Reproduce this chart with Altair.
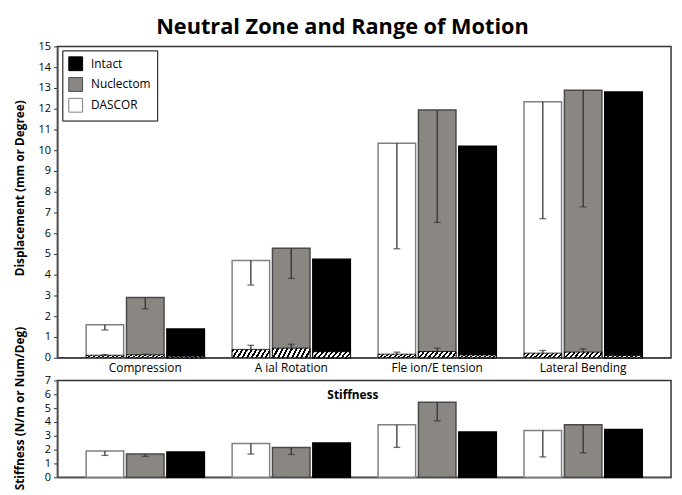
import altair as alt
import pandas as pd

motions = ["Compression", "A  ial Rotation", "Fle  ion/E  tension", "Lateral Bending"]
groups = ["DASCOR", "Nuclectom", "Intact"]
legend_order = ["Intact", "Nuclectom", "DASCOR"]

# Range of motion (bar tops) and downward error-bar lengths
rom_dascor = [1.59, 4.68, 10.33, 12.33]
rom_dascor_sd = [0.25, 1.18, 5.08, 5.63]
rom_nuclectom = [2.90, 5.27, 11.94, 12.89]
rom_nuclectom_sd = [0.54, 1.45, 5.42, 5.62]
rom_intact = [1.38, 4.75, 10.19, 12.81]

# Neutral zone (hatched bars) and upward error-bar lengths
nz_dascor = [0.12, 0.40, 0.17, 0.22]
nz_dascor_sd = [0.03, 0.20, 0.10, 0.13]
nz_nuclectom = [0.14, 0.46, 0.30, 0.27]
nz_nuclectom_sd = [0.03, 0.19, 0.16, 0.16]
nz_intact = [0.07, 0.29, 0.13, 0.11]

# Stiffness and downward error-bar lengths
stiff_dascor = [1.90, 2.45, 3.79, 3.38]
stiff_dascor_sd = [0.32, 0.77, 1.63, 1.91]
stiff_nuclectom = [1.68, 2.16, 5.42, 3.79]
stiff_nuclectom_sd = [0.17, 0.51, 1.34, 2.03]
stiff_intact = [1.83, 2.47, 3.27, 3.45]

panel_label = ["Stiffness"]

fill_range = ["#000000", "#8a8682", "#ffffff"]
stroke_range = ["#000000", "#4a4a4a", "#808080"]
FONT = "Open Sans"


def long_table(d, d_sd, n, n_sd, it, sign):
    rows = []
    for i, m in enumerate(motions):
        for g, vals, sds in [("DASCOR", d, d_sd), ("Nuclectom", n, n_sd), ("Intact", it, None)]:
            v = vals[i]
            sd = sds[i] if sds is not None else 0.0
            rows.append(dict(motion=m, group=g, value=v, sd=sd, end=v + sign * sd))
    return pd.DataFrame(rows)


rom_df = long_table(rom_dascor, rom_dascor_sd, rom_nuclectom, rom_nuclectom_sd, rom_intact, -1)
nz_df = long_table(nz_dascor, nz_dascor_sd, nz_nuclectom, nz_nuclectom_sd, nz_intact, 1)
stiff_df = long_table(stiff_dascor, stiff_dascor_sd, stiff_nuclectom, stiff_nuclectom_sd, stiff_intact, -1)

# diagonal hatch as a striped linear gradient
P = 0.108
stops = []
k = 0
while k * P < 1:
    a = k * P
    b = min(a + 0.45 * P, 1.0)
    c = min((k + 1) * P, 1.0)
    stops += [
        alt.GradientStop(color="black", offset=a),
        alt.GradientStop(color="black", offset=b),
        alt.GradientStop(color="white", offset=b),
        alt.GradientStop(color="white", offset=c),
    ]
    k += 1
hatch = alt.Gradient(gradient="linear", stops=stops, x1=0, y1=0, x2=1.13, y2=0.147)

W = 621


def xenc(show_labels):
    return alt.X(
        "motion:N",
        sort=motions,
        scale=alt.Scale(paddingInner=0.19, paddingOuter=0.197),
        axis=alt.Axis(
            title=None, labelAngle=0, ticks=False, labels=show_labels,
            labelFontSize=12, labelPadding=5, labelColor="black",
            domainColor="#555555", domainWidth=1.5, labelFont=FONT,
        ),
    )


xo = alt.XOffset("group:N", sort=groups, scale=alt.Scale(paddingInner=0.07, paddingOuter=0))


def yenc(field, title, maxv, title_y):
    return alt.Y(
        field,
        scale=alt.Scale(domain=[0, maxv], nice=False),
        axis=alt.Axis(
            title=title, values=list(range(maxv + 1)), grid=False, tickSize=4,
            tickColor="#333333", domainColor="#555555", domainWidth=1.5,
            labelFontSize=11, labelColor="black", labelFont=FONT,
            labelOverlap=False, labelFlush=False, labelPadding=3,
            titleFontSize=12, titleFontWeight="bold", titleFont=FONT, titleColor="black",
            titleX=-31, titleY=title_y, titleBaseline="bottom", titleAlign="center",
        ),
    )


def bar_layers(df, ycfg, show_legend):
    base = alt.Chart(df)
    fill_legend = alt.Legend(
        orient="none", legendX=5, legendY=4, title=None, symbolType="square",
        symbolSize=196, symbolStrokeColor="black", symbolStrokeWidth=1,
        labelFontSize=12, labelFont=FONT, labelColor="black", rowPadding=2, padding=6,
        strokeColor="black", fillColor="white", labelOffset=8,
    ) if show_legend else None
    bars = base.mark_bar(strokeWidth=1.5).encode(
        x=xenc(show_legend), xOffset=xo,
        y=yenc("value:Q", *ycfg),
        fill=alt.Fill("group:N", scale=alt.Scale(domain=legend_order, range=fill_range), legend=fill_legend),
        stroke=alt.Stroke("group:N", scale=alt.Scale(domain=legend_order, range=stroke_range), legend=None),
    )
    errs = base.transform_filter("datum.sd > 0")
    rule = errs.mark_rule(color="#333333", strokeWidth=1.3).encode(
        x=xenc(show_legend), xOffset=xo, y=yenc("value:Q", *ycfg), y2="end:Q"
    )
    cap = errs.mark_tick(color="#333333", orient="horizontal", size=7, thickness=1.3).encode(
        x=xenc(show_legend), xOffset=xo, y=yenc("end:Q", *ycfg)
    )
    return [bars, rule, cap]


top_cfg = ("Displacement (mm or Degree)", 15, 143)
top_layers = bar_layers(rom_df, top_cfg, True)

nz_base = alt.Chart(nz_df)
nz_bars = nz_base.mark_bar(fill=hatch, stroke="black", strokeWidth=0.8).encode(
    x=xenc(True), xOffset=xo, y=yenc("value:Q", *top_cfg)
)
nz_errs = nz_base.transform_filter("datum.sd > 0")
nz_rule = nz_errs.mark_rule(color="#333333", strokeWidth=1.3).encode(
    x=xenc(True), xOffset=xo, y=yenc("value:Q", *top_cfg), y2="end:Q"
)
nz_cap = nz_errs.mark_tick(color="#333333", orient="horizontal", size=7, thickness=1.3).encode(
    x=xenc(True), xOffset=xo, y=yenc("end:Q", *top_cfg)
)

top = alt.layer(*top_layers, nz_bars, nz_rule, nz_cap).properties(width=W, height=315)

bot_cfg = ("Stiffness (N/m or Num/Deg)", 7, 28)
label = alt.Chart(pd.DataFrame({"t": panel_label})).mark_text(
    fontSize=12, fontWeight="bold", font=FONT, color="black", baseline="middle", align="center"
).encode(text="t:N", x=alt.value(299), y=alt.value(15))

bottom = alt.layer(*bar_layers(stiff_df, bot_cfg, False), label).properties(width=W, height=98)

chart = alt.vconcat(top, bottom, spacing=23, bounds="flush").resolve_scale(
    fill="independent", stroke="independent"
).properties(
    title=alt.TitleParams("Neutral Zone and Range of Motion", fontSize=22, fontWeight="bold",
                          font=FONT, color="black", anchor="middle", offset=1),
    padding={"left": 5, "top": 5, "right": 2, "bottom": 0},
).configure_view(stroke="#333333", strokeWidth=1.5)

chart.save("out.html", embed_options={"renderer": "svg", "actions": False})
